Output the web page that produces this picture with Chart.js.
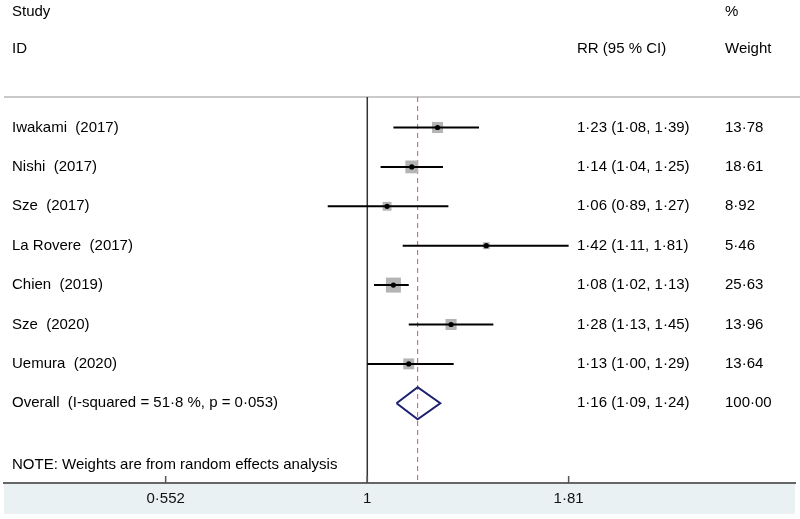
<!DOCTYPE html>
<html><head><meta charset="utf-8">
<script src="https://cdn.jsdelivr.net/npm/chart.js@4"></script>
<style>html,body{margin:0;padding:0;background:#fff}#wrap{width:800px;height:519px}</style>
</head><body><div id="wrap"><canvas id="c" width="800" height="519"></canvas></div>
<script>
const studies = ["Iwakami  (2017)","Nishi  (2017)","Sze  (2017)","La Rovere  (2017)","Chien  (2019)","Sze  (2020)","Uemura  (2020)"];
const rr = [1.23,1.14,1.06,1.42,1.08,1.28,1.13];
const ciLow = [1.08,1.04,0.89,1.11,1.02,1.13,1.00];
const ciHigh = [1.39,1.25,1.27,1.81,1.13,1.45,1.29];
const weights = ["13.78","18.61","8.92","5.46","25.63","13.96","13.64"];
const overallLabel = "Overall  (I-squared = 51.8 %, p = 0.053)";
const overall = [1.16,1.09,1.24];
const overallWeight = "100.00";
const xTicks = [0.552,1,1.81];
const note = "NOTE: Weights are from random effects analysis";

const dot = s => s.replace(/\./g,'\u00b7');
const f2 = v => v.toFixed(2);
const rrText = (e,l,h) => dot(f2(e)+" ("+f2(l)+", "+f2(h)+")");

const FONT = '15px "Liberation Sans", Arial, sans-serif';
const yTop = -0.774; // separator row position (row units)
const nRows = studies.length;

const datasets = [];
studies.forEach((s,i)=>{
  datasets.push({type:'line',data:[{x:ciLow[i],y:i},{x:ciHigh[i],y:i}],borderColor:'#000',borderWidth:2,pointRadius:0,fill:false,order:1});
});
datasets.push({type:'scatter',data:rr.map((v,i)=>({x:v,y:i})),pointStyle:'rect',
  pointRadius:weights.map(w=>2.963*Math.sqrt(parseFloat(w))/1.4142),
  backgroundColor:'#b4b4b4',borderColor:'#b4b4b4',borderWidth:0,order:2});
datasets.push({type:'scatter',data:rr.map((v,i)=>({x:v,y:i})),pointStyle:'circle',pointRadius:2.6,
  backgroundColor:'#000',borderColor:'#000',borderWidth:0,order:0});
const dh = 0.406;
datasets.push({type:'line',data:[{x:overall[1],y:nRows},{x:overall[0],y:nRows-dh},{x:overall[2],y:nRows},{x:overall[0],y:nRows+dh},{x:overall[1],y:nRows}],
  borderColor:'#1c1f6e',borderWidth:2,pointRadius:0,fill:false,tension:0,order:0});

const refLines = {
  id:'refLines',
  beforeDraw(chart){
    const {ctx,chartArea:a} = chart;
    ctx.save();
    ctx.fillStyle='#e9f1f2';
    ctx.fillRect(a.left, a.bottom, a.right-a.left, 31);
    ctx.restore();
  },
  beforeDatasetsDraw(chart){
    const {ctx,chartArea:a,scales:{x,y}} = chart;
    ctx.save();
    const yt = y.getPixelForValue(yTop);
    ctx.strokeStyle='#c9c9c9'; ctx.lineWidth=2;
    ctx.beginPath(); ctx.moveTo(a.left,yt); ctx.lineTo(800,yt); ctx.stroke();
    const x1 = x.getPixelForValue(1);
    ctx.strokeStyle='#333'; ctx.lineWidth=1.5;
    ctx.beginPath(); ctx.moveTo(x1,yt); ctx.lineTo(x1,a.bottom); ctx.stroke();
    const xo = x.getPixelForValue(overall[0]);
    ctx.strokeStyle='#c4586a'; ctx.lineWidth=1; ctx.setLineDash([5,4]);
    ctx.beginPath(); ctx.moveTo(xo,yt); ctx.lineTo(xo,a.bottom); ctx.stroke();
    ctx.setLineDash([]);
    ctx.strokeStyle='#555'; ctx.lineWidth=1.5;
    xTicks.forEach(t=>{const px=x.getPixelForValue(t);ctx.beginPath();ctx.moveTo(px,a.bottom);ctx.lineTo(px,a.bottom-7);ctx.stroke();});
    ctx.restore();
  },
  afterDraw(chart){
    const {ctx,scales:{y}} = chart;
    ctx.save();
    ctx.font=FONT; ctx.fillStyle='#000'; ctx.textBaseline='middle'; ctx.textAlign='left';
    const colName=12, colRR=577, colW=725;
    const py = v=>y.getPixelForValue(v);
    ctx.fillText('Study',colName,py(-2.93));
    ctx.fillText('ID',colName,py(-1.99));
    ctx.fillText('%',colW,py(-2.93));
    ctx.fillText('RR (95 % CI)',colRR,py(-1.99));
    ctx.fillText('Weight',colW,py(-1.99));
    studies.forEach((s,i)=>{
      ctx.fillText(s,colName,py(i));
      ctx.fillText(rrText(rr[i],ciLow[i],ciHigh[i]),colRR,py(i));
      ctx.fillText(dot(weights[i]),colW,py(i));
    });
    ctx.fillText(dot(overallLabel),colName,py(nRows));
    ctx.fillText(rrText(overall[0],overall[1],overall[2]),colRR,py(nRows));
    ctx.fillText(dot(overallWeight),colW,py(nRows));
    ctx.fillText(note,colName,py(8.566));
    ctx.restore();
  }
};

new Chart(document.getElementById('c'),{
  type:'scatter',
  data:{datasets},
  options:{
    responsive:false,animation:false,
    layout:{autoPadding:false,padding:{left:4,right:5,top:0,bottom:5}},
    plugins:{legend:{display:false},tooltip:{enabled:false}},
    scales:{
      x:{type:'logarithmic',min:0.3428,max:3.527,bounds:'data',
        afterBuildTicks:s=>{s.ticks=xTicks.map(v=>({value:v}));},
        afterFit:s=>{s.height=31;s.paddingLeft=0;s.paddingRight=0;},
        grid:{display:false,drawTicks:false,tickLength:0},
        border:{display:true,color:'#666',width:2},
        ticks:{padding:7,color:'#111',font:{family:'"Liberation Sans", Arial, sans-serif',size:15},
          maxRotation:0,autoSkip:false,
          callback:v=>dot(String(v))}
      },
      y:{type:'linear',reverse:true,min:-3.236,max:9.023,display:false}
    }
  },
  plugins:[refLines]
});
</script></body></html>
